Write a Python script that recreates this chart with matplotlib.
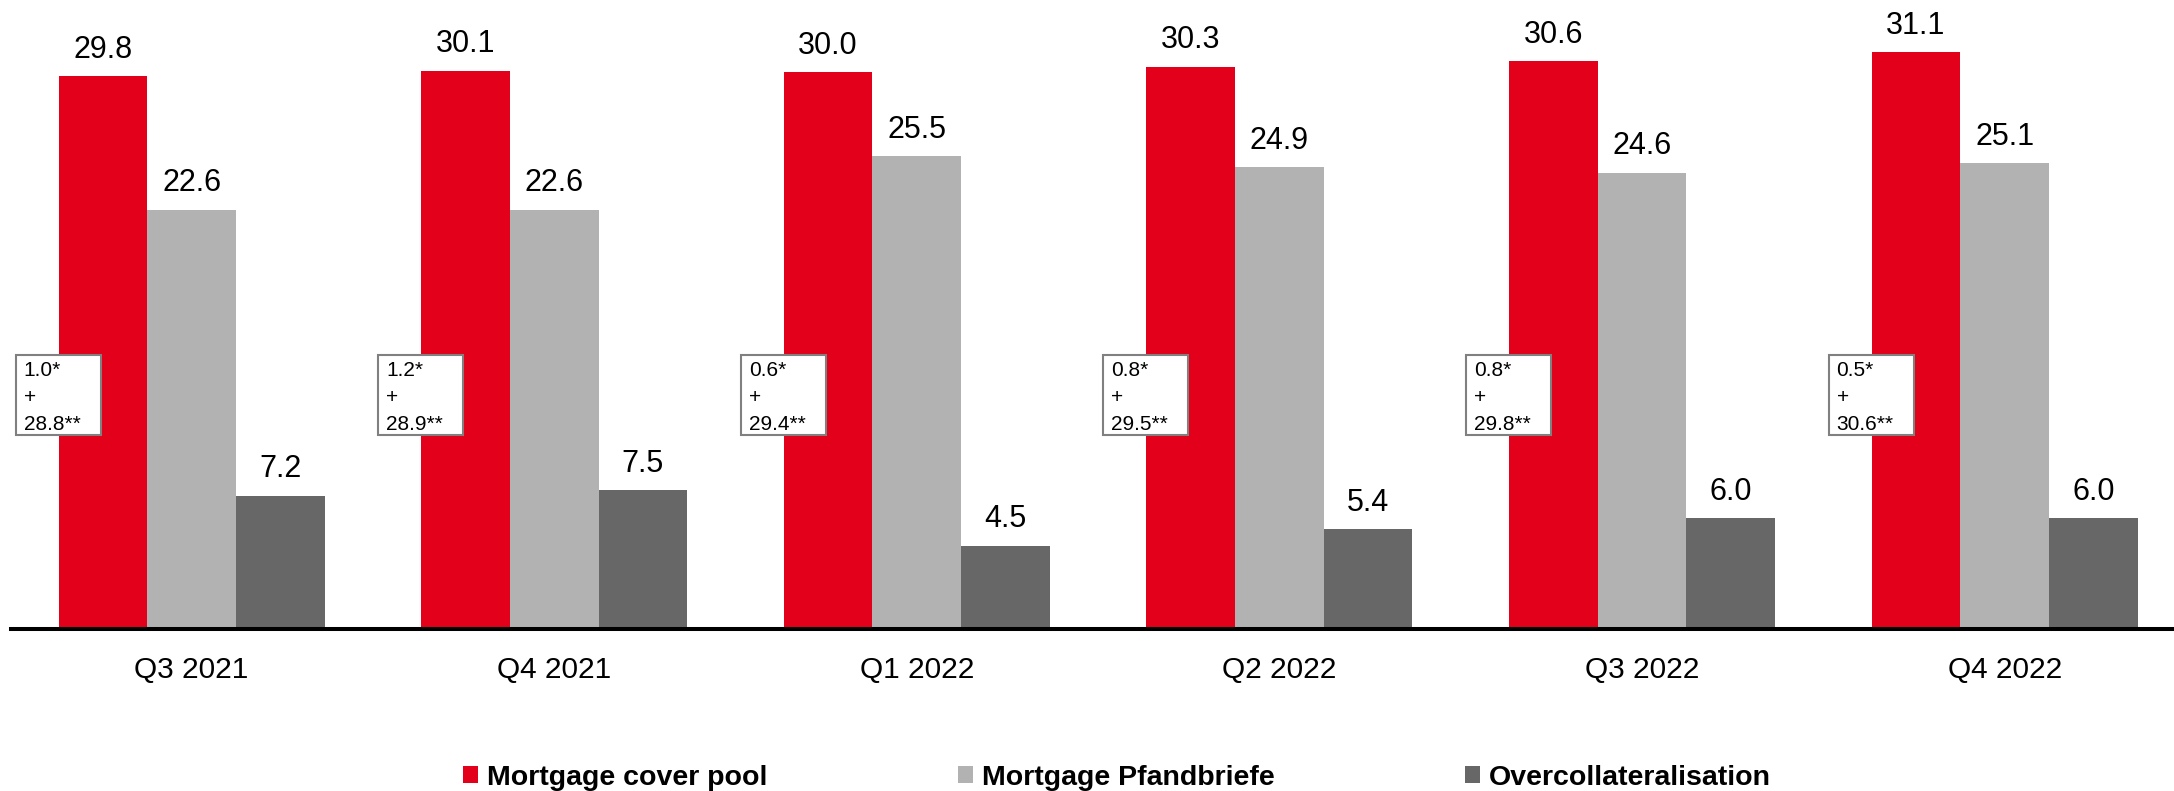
import matplotlib.pyplot as plt
import matplotlib.patches as patches
import numpy as np

plt.rcParams['font.family'] = ['Liberation Sans', 'DejaVu Sans']

# Daten
quarters = ['Q3 2021', 'Q4 2021', 'Q1 2022', 'Q2 2022', 'Q3 2022', 'Q4 2022']
cover_pool = [29.8, 30.1, 30.0, 30.3, 30.6, 31.1]
pfandbriefe = [22.6, 22.6, 25.5, 24.9, 24.6, 25.1]
overcoll = [7.2, 7.5, 4.5, 5.4, 6.0, 6.0]
box_part1 = ['1.0', '1.2', '0.6', '0.8', '0.8', '0.5']
box_part2 = ['28.8', '28.9', '29.4', '29.5', '29.8', '30.6']

# Farben
color_pool = '#E2001A'
color_pfand = '#B2B2B2'
color_oc = '#676767'

fig = plt.figure(figsize=(21.74, 7.91), dpi=100)
ax = fig.add_axes([0.00506, 0.2042, 0.99494, 0.7958])

x = np.arange(len(quarters))
w = 0.2446

series = [
    (cover_pool, color_pool, 'Mortgage cover pool', -w),
    (pfandbriefe, color_pfand, 'Mortgage Pfandbriefe', 0),
    (overcoll, color_oc, 'Overcollateralisation', w),
]
for values, color, label, shift in series:
    bars = ax.bar(x + shift, values, width=w, color=color, label=label, linewidth=0)
    for b, v in zip(bars, values):
        ax.annotate(f'{v:.1f}', (b.get_x() + b.get_width() / 2, v),
                    xytext=(0, 13.3), textcoords='offset points',
                    ha='center', va='baseline', fontsize=22)

# Kästchen mit Aufteilung der Deckungsmasse
box_w, box_bottom, box_top = 0.2344, 10.5, 14.8
for i in range(len(quarters)):
    left = x[i] - 1.5 * w - 0.1186
    ax.add_patch(patches.Rectangle((left, box_bottom), box_w, box_top - box_bottom,
                                   fc='white', ec='#808080', lw=1.5, zorder=3))
    ax.text(left + 0.022, box_top - 0.34, f'{box_part1[i]}*\n+\n{box_part2[i]}**',
            ha='left', va='top', fontsize=15, linespacing=1.52, zorder=4)

ax.set_xlim(-0.498, 5.467)
ax.set_ylim(0, 33.9)
ax.set_xticks(x)
ax.set_xticklabels(quarters, fontsize=21.5)
ax.tick_params(axis='x', length=0, pad=19)
ax.set_yticks([])
for s in ['top', 'left', 'right']:
    ax.spines[s].set_visible(False)
ax.spines['bottom'].set_linewidth(2.9)
ax.spines['bottom'].set_color('black')

leg = fig.legend(loc='center', bbox_to_anchor=(0.5138, 0.0165), ncol=3, frameon=False,
                 prop={'weight': 'bold', 'size': 20.5}, handlelength=0.53, handleheight=0.53,
                 handletextpad=0.32, columnspacing=6.67, borderpad=0)

plt.savefig('out.png', dpi=100)
